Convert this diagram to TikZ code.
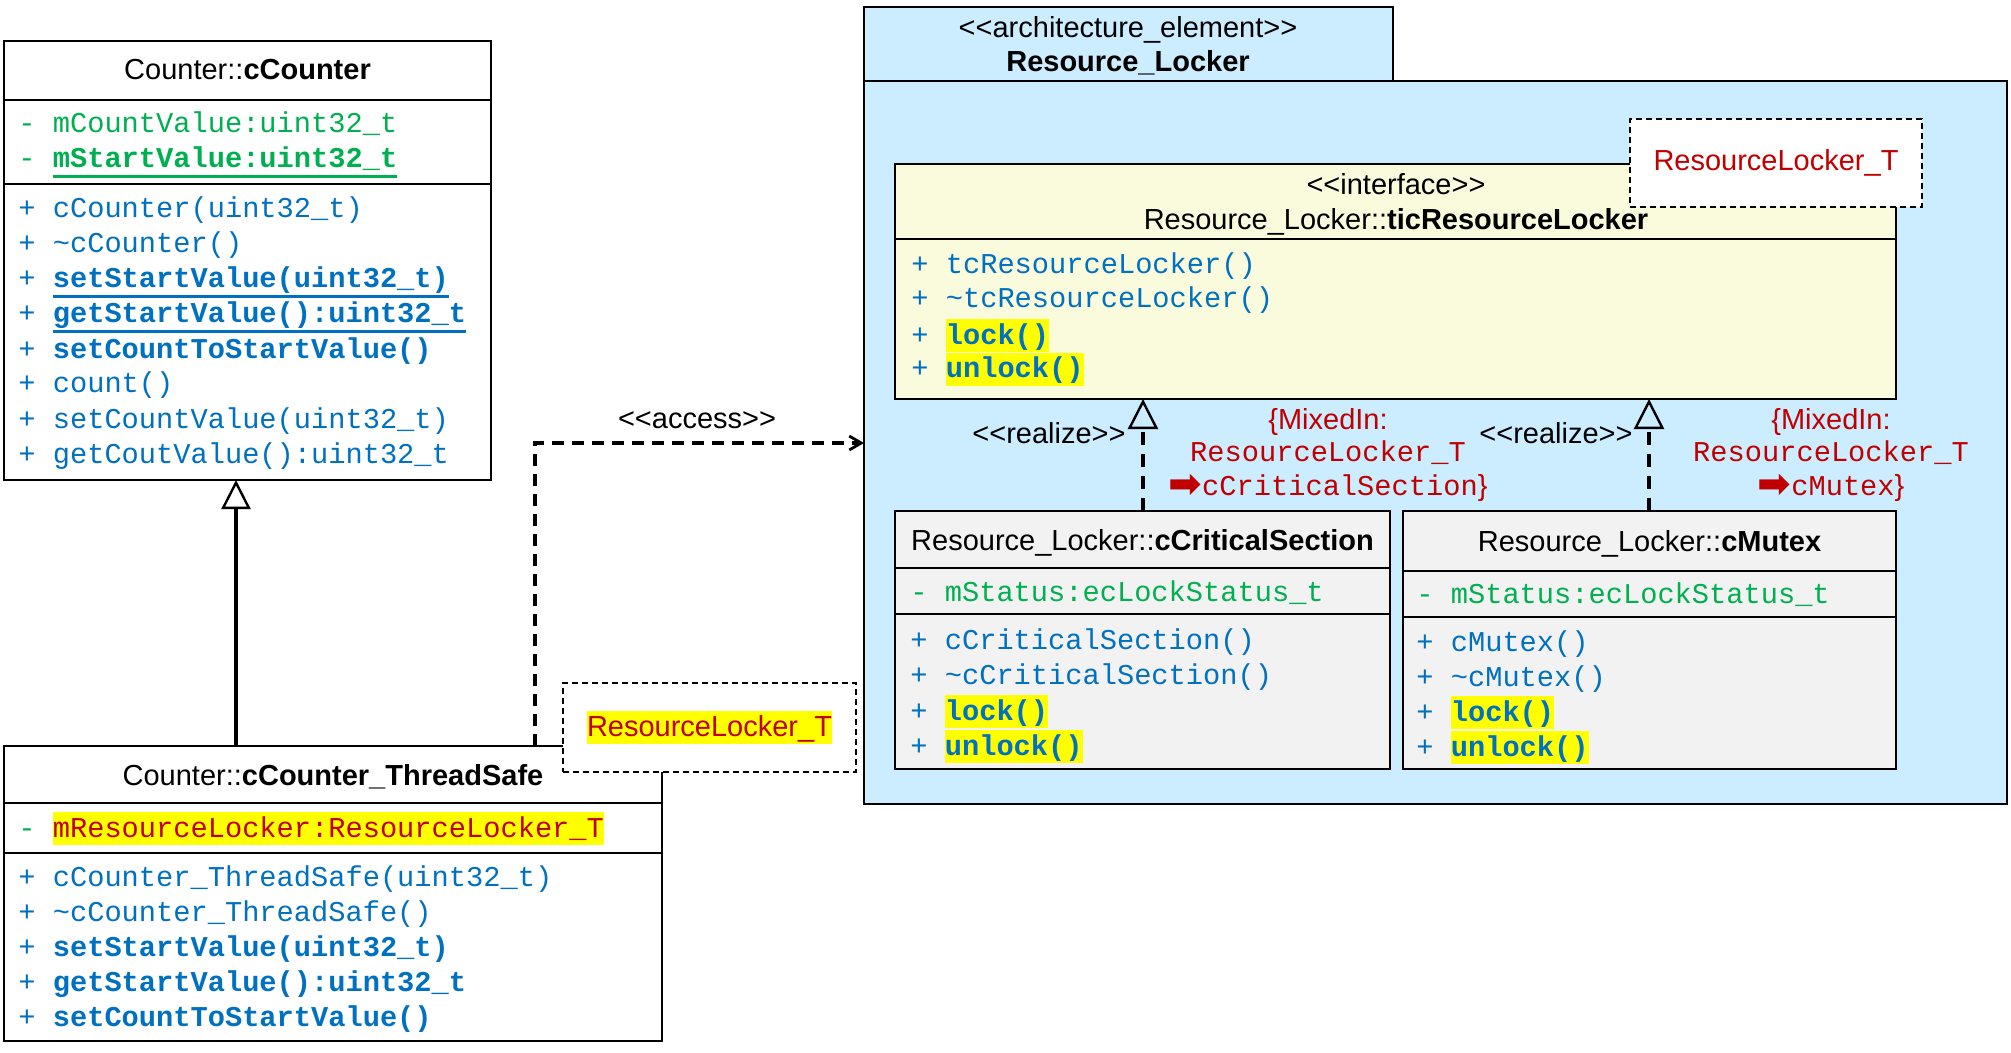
\documentclass[tikz,border=0pt]{standalone}
\usepackage{fontspec}
\setmainfont{Liberation Sans}
\setmonofont{Liberation Mono}
\newfontfamily\djv{DejaVu Sans}
\usetikzlibrary{arrows.meta}
\definecolor{grn}{HTML}{00B050}
\definecolor{blu}{HTML}{0070C0}
\definecolor{rd}{HTML}{C00000}
\definecolor{hly}{HTML}{FFFF00}
\definecolor{pkgc}{HTML}{CCECFF}
\definecolor{ifcc}{HTML}{FAFADC}
\definecolor{clsc}{HTML}{F2F2F2}
\newcommand\fs{\fontsize{14.5}{17.4}\selectfont\rmfamily}
\newcommand\fm{\fontsize{14.35}{17}\selectfont\ttfamily}
\newcommand\hlt[1]{{\setlength{\fboxsep}{0pt}\colorbox{hly}{\rule[-0.28em]{0pt}{1.15em}#1}}}
\newcommand\uln[1]{\setbox0\hbox{#1}\rlap{\rule[-4.8pt]{\wd0}{1.4pt}}\box0}
\newcommand\lgl{<\kern0pt<}
\newcommand\rgr{>\kern0pt>}
\newcommand\rarr{\raisebox{-0.08em}{\scalebox{1.4}{\djv\bfseries ➡}}}
\tikzset{
 box/.style={draw=black, line width=1.2pt, inner sep=0pt, outer sep=0pt, anchor=north west},
 sepl/.style={line width=1.2pt},
 tl/.style={inner sep=0pt, anchor=base west, font=\fm},
 ttl/.style={inner sep=0pt, anchor=base, font=\fs},
 atr/.style={tl, text=grn},
 mth/.style={tl, text=blu},
 mixs/.style={inner sep=0pt, anchor=base, text=rd, font=\fs},
 mixm/.style={inner sep=0pt, anchor=base, text=rd, font=\fm},
 tplbox/.style={draw=black, fill=white, line width=1pt, dash pattern=on 3pt off 2pt, inner sep=0pt, outer sep=0pt, font=\fs, text=rd},
 gen/.style={line width=2pt, -{Triangle[open, length=14.5pt, width=14.5pt, line width=1.2pt]}},
 real/.style={line width=1.7pt, dash pattern=on 6.5pt off 4.5pt, -{Triangle[open, length=15pt, width=15pt, line width=1.2pt]}},
 acc/.style={line width=1.7pt, dash pattern=on 6pt off 4pt, -{Straight Barb[length=6pt, width=7pt, line width=1.4pt]}},
}
\begin{document}
\begin{tikzpicture}[x=0.5pt,y=-0.5pt]
\fill[white] (0,0) rectangle (2011,1053);
\useasboundingbox (0,0) rectangle (2011,1053);

% ---------- package ----------
\node[box, line width=1.1pt, fill=pkgc, minimum width=264.5pt, minimum height=37pt] (tab) at (864,7) {};
\node[box, line width=1.1pt, fill=pkgc, minimum width=571.5pt, minimum height=361.5pt] (pkg) at (864,81) {};
\node[ttl] (tab1) at (1128,38) {\lgl architecture\_element\rgr};
\node[ttl] (tab2) at (1128,72) {\textbf{Resource\_Locker}};

% ---------- cCounter ----------
\node[box, fill=white, minimum width=243.5pt, minimum height=219.5pt] (cc) at (4,41) {};
\draw[sepl] (4,100) -- (491,100);
\draw[sepl] (4,184) -- (491,184);
\node[ttl] (ccT) at (247.5,80) {Counter::\textbf{cCounter}};
\node[atr] (cca1) at (18,133) {- mCountValue:uint32\_t};
\node[atr] (cca2) at (18,168) {- \textbf{\uln{mStartValue:uint32\_t}}};
\node[mth] (ccm1) at (18,218) {+ cCounter(uint32\_t)};
\node[mth] (ccm2) at (18,253) {+ \textasciitilde cCounter()};
\node[mth] (ccm3) at (18,288) {+ \textbf{\uln{setStartValue(uint32\_t)}}};
\node[mth] (ccm4) at (18,323) {+ \textbf{\uln{getStartValue():uint32\_t}}};
\node[mth] (ccm5) at (18,358) {+ \textbf{setCountToStartValue()}};
\node[mth] (ccm6) at (18,393) {+ count()};
\node[mth] (ccm7) at (18,428) {+ setCountValue(uint32\_t)};
\node[mth] (ccm8) at (18,463) {+ getCoutValue():uint32\_t};

% ---------- cCounter_ThreadSafe ----------
\node[box, fill=white, minimum width=329pt, minimum height=147.5pt] (ts) at (4,746) {};
\draw[sepl] (4,803) -- (662,803);
\draw[sepl] (4,853) -- (662,853);
\node[ttl] (tsT) at (333,785) {Counter::\textbf{cCounter\_ThreadSafe}};
\node[atr] (tsa1) at (18,837) {- \textcolor{rd}{\hlt{mResourceLocker:ResourceLocker\_T}}};
\node[mth] (tsm1) at (18,886) {+ cCounter\_ThreadSafe(uint32\_t)};
\node[mth] (tsm2) at (18,921) {+ \textasciitilde cCounter\_ThreadSafe()};
\node[mth] (tsm3) at (18,956) {+ \textbf{setStartValue(uint32\_t)}};
\node[mth] (tsm4) at (18,991) {+ \textbf{getStartValue():uint32\_t}};
\node[mth] (tsm5) at (18,1026) {+ \textbf{setCountToStartValue()}};

% ---------- interface ----------
\node[box, fill=ifcc, minimum width=500.5pt, minimum height=117.5pt] (ifc) at (895,164) {};
\draw[sepl] (895,239) -- (1896,239);
\node[ttl] (ifcS) at (1396,195) {\lgl interface\rgr};
\node[ttl] (ifcT) at (1396,230) {Resource\_Locker::\textbf{ticResourceLocker}};
\node[mth] (ifm1) at (911,274) {+ tcResourceLocker()};
\node[mth] (ifm2) at (911,308) {+ \textasciitilde tcResourceLocker()};
\node[mth] (ifm3) at (911,344) {+ \textbf{\hlt{lock()}}};
\node[mth] (ifm4) at (911,378) {+ \textbf{\hlt{unlock()}}};

% ---------- cCriticalSection ----------
\node[box, fill=clsc, minimum width=247.5pt, minimum height=129pt] (cs) at (895,511) {};
\draw[sepl] (895,568) -- (1390,568);
\draw[sepl] (895,614) -- (1390,614);
\node[ttl] (csT) at (1142.5,550) {Resource\_Locker::\textbf{cCriticalSection}};
\node[atr] (csa1) at (910,601) {- mStatus:ecLockStatus\_t};
\node[mth] (csm1) at (910,649) {+ cCriticalSection()};
\node[mth] (csm2) at (910,684) {+ \textasciitilde cCriticalSection()};
\node[mth] (csm3) at (910,720) {+ \textbf{\hlt{lock()}}};
\node[mth] (csm4) at (910,755) {+ \textbf{\hlt{unlock()}}};

% ---------- cMutex ----------
\node[box, fill=clsc, minimum width=246.5pt, minimum height=129pt] (mx) at (1403,511) {};
\draw[sepl] (1403,571) -- (1896,571);
\draw[sepl] (1403,617) -- (1896,617);
\node[ttl] (mxT) at (1649.5,551) {Resource\_Locker::\textbf{cMutex}};
\node[atr] (mxa1) at (1416,603) {- mStatus:ecLockStatus\_t};
\node[mth] (mxm1) at (1416,651) {+ cMutex()};
\node[mth] (mxm2) at (1416,686) {+ \textasciitilde cMutex()};
\node[mth] (mxm3) at (1416,721) {+ \textbf{\hlt{lock()}}};
\node[mth] (mxm4) at (1416,756) {+ \textbf{\hlt{unlock()}}};

% ---------- connectors ----------
\coordinate (gx) at (236,0);
\coordinate (ax) at (535,0);
\coordinate (ay) at (0,443);
\coordinate (r1) at (1143,0);
\coordinate (r2) at (1649,0);
\draw[gen] (ts.north -| gx) -- (cc.south -| gx);
\draw[acc] (ts.north -| ax) |- (pkg.west |- ay);
\draw[real] (cs.north -| r1) -- (ifc.south -| r1);
\draw[real] (mx.north -| r2) -- (ifc.south -| r2);

\node[ttl] (accL) at (697,428) {\lgl access\rgr};
\node[ttl] (rl1) at (1049,443) {\lgl realize\rgr};
\node[ttl] (rl2) at (1556,443) {\lgl realize\rgr};

\node[mixs] (mi1a) at (1328,429) {\{MixedIn:};
\node[mixm] (mi1b) at (1328,461) {ResourceLocker\_T};
\node[mixm] (mi1c) at (1328,495) {\rarr cCriticalSection{\fs\}}};
\node[mixs] (mi2a) at (1831,429) {\{MixedIn:};
\node[mixm] (mi2b) at (1831,461) {ResourceLocker\_T};
\node[mixm] (mi2c) at (1831,495) {\rarr cMutex{\fs\}}};

% ---------- template parameter boxes ----------
\node[tplbox, minimum width=146.5pt, minimum height=44.5pt] (tpl1) at (709.5,727.5) {\hlt{ResourceLocker\_T}};
\node[tplbox, minimum width=146pt, minimum height=44pt] (tpl2) at (1776,163) {ResourceLocker\_T};
\end{tikzpicture}
\end{document}
